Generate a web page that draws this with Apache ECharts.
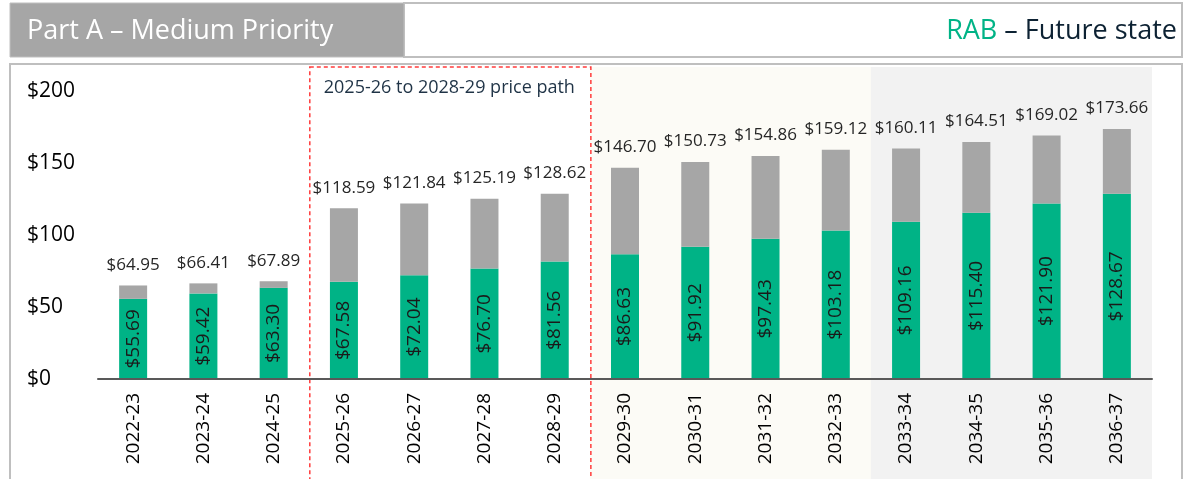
<!DOCTYPE html>
<html>
<head>
<meta charset="utf-8">
<script src="https://cdn.jsdelivr.net/npm/echarts@6/dist/echarts.min.js"></script>
<style>
html, body { margin: 0; padding: 0; background: #fff; }
#chart { width: 1201px; height: 479px; }
</style>
</head>
<body>
<div id="chart"></div>
<script>
var categories = ['2022-23', '2023-24', '2024-25', '2025-26', '2026-27', '2027-28', '2028-29',
  '2029-30', '2030-31', '2031-32', '2032-33', '2033-34', '2034-35', '2035-36', '2036-37'];
// total RAB (label on top of each bar)
var totalValues = [64.95, 66.41, 67.89, 118.59, 121.84, 125.19, 128.62,
  146.70, 150.73, 154.86, 159.12, 160.11, 164.51, 169.02, 173.66];
// green part (label inside the bar)
var greenValues = [55.69, 59.42, 63.30, 67.58, 72.04, 76.70, 81.56,
  86.63, 91.92, 97.43, 103.18, 109.16, 115.40, 121.90, 128.67];
var yTicks = [0, 50, 100, 150, 200];

// grey part = total - green
var greyValues = totalValues.map(function (t, i) {
  return +(t - greenValues[i]).toFixed(2);
});

var FONT = "'Open Sans', sans-serif";
var GREEN = '#00b386';
var GREY = '#a6a6a6';

var myChart = echarts.init(document.getElementById('chart'));

var option = {
  animation: false,
  textStyle: { fontFamily: FONT },
  grid: { left: 98, right: 49, top: 91, bottom: 100 },
  xAxis: {
    type: 'category',
    data: categories,
    z: 5,
    axisLine: { lineStyle: { color: '#595959', width: 2 } },
    axisTick: { show: false },
    axisLabel: { rotate: 90, fontSize: 19, color: '#000', margin: 14, fontFamily: FONT }
  },
  yAxis: {
    type: 'value',
    min: yTicks[0],
    max: yTicks[yTicks.length - 1],
    interval: 50,
    splitLine: { show: false },
    axisLine: { show: false },
    axisTick: { show: false },
    axisLabel: {
      formatter: function (v) { return '$' + v; },
      fontSize: 21, color: '#000', align: 'left', margin: 71, fontFamily: FONT
    }
  },
  series: [
    {
      name: 'green',
      type: 'bar',
      stack: 'rab',
      data: greenValues,
      barWidth: 28,
      itemStyle: { color: GREEN },
      label: {
        show: true,
        position: 'inside',
        rotate: 90,
        fontSize: 19,
        color: '#1a1a1a',
        fontFamily: FONT,
        formatter: function (p) { return '$' + p.value.toFixed(2); }
      }
    },
    {
      name: 'grey',
      type: 'bar',
      stack: 'rab',
      data: greyValues,
      barWidth: 28,
      itemStyle: { color: GREY },
      label: {
        show: true,
        position: 'top',
        distance: 12,
        fontSize: 17,
        color: '#262626',
        fontFamily: FONT,
        formatter: function (p) { return '$' + totalValues[p.dataIndex].toFixed(2); }
      }
    }
  ]
};
myChart.setOption(option);

// band edges, taken from the axis itself
var c0 = myChart.convertToPixel({ xAxisIndex: 0 }, categories[0]);
var c1 = myChart.convertToPixel({ xAxisIndex: 0 }, categories[1]);
var band = c1 - c0;
function edge(i) { return c0 - band / 2 + i * band; }

myChart.setOption({
  graphic: [
    // shaded periods
    { type: 'rect', z: -10, shape: { x: edge(7), y: 67, width: edge(11) - edge(7), height: 420 },
      style: { fill: '#fcfbf6' } },
    { type: 'rect', z: -10, shape: { x: edge(11), y: 67, width: edge(15) - edge(11), height: 420 },
      style: { fill: '#f2f2f2' } },
    // price path box
    { type: 'rect', z: 1, shape: { x: edge(3) + 1, y: 67, width: edge(7) - edge(3), height: 430 },
      style: { fill: 'none', stroke: '#ff3b3b', lineWidth: 1.5, lineDash: [4, 3] } },
    { type: 'text', z: 1, x: (edge(3) + edge(7)) / 2, y: 88,
      style: { text: '2025-26 to 2028-29 price path', fontSize: 18, fontFamily: FONT,
        fill: '#1f3346', align: 'center', verticalAlign: 'middle' } },
    // frame
    { type: 'rect', z: 0, shape: { x: 10, y: 64, width: 1172, height: 430 },
      style: { fill: 'none', stroke: '#bfbfbf', lineWidth: 2 } },
    // header
    { type: 'rect', z: 0, shape: { x: 404, y: 3, width: 778, height: 54 },
      style: { fill: '#fff', stroke: '#bfbfbf', lineWidth: 2 } },
    { type: 'rect', z: 0, shape: { x: 10, y: 3, width: 394, height: 54 },
      style: { fill: GREY, stroke: '#bfbfbf', lineWidth: 1 } },
    { type: 'text', z: 1, x: 27, y: 31,
      style: { text: 'Part A \u2013 Medium Priority', fontSize: 27, fontFamily: FONT,
        fill: '#fff', align: 'left', verticalAlign: 'middle' } },
    { type: 'text', z: 1, x: 1177, y: 31,
      style: {
        text: '{g|RAB}{d| \u2013 Future state}', align: 'right', verticalAlign: 'middle',
        rich: {
          g: { fontSize: 27, fontFamily: FONT, fill: GREEN, color: GREEN },
          d: { fontSize: 27, fontFamily: FONT, fill: '#0d2233', color: '#0d2233' }
        }
      } }
  ]
});
</script>
</body>
</html>
